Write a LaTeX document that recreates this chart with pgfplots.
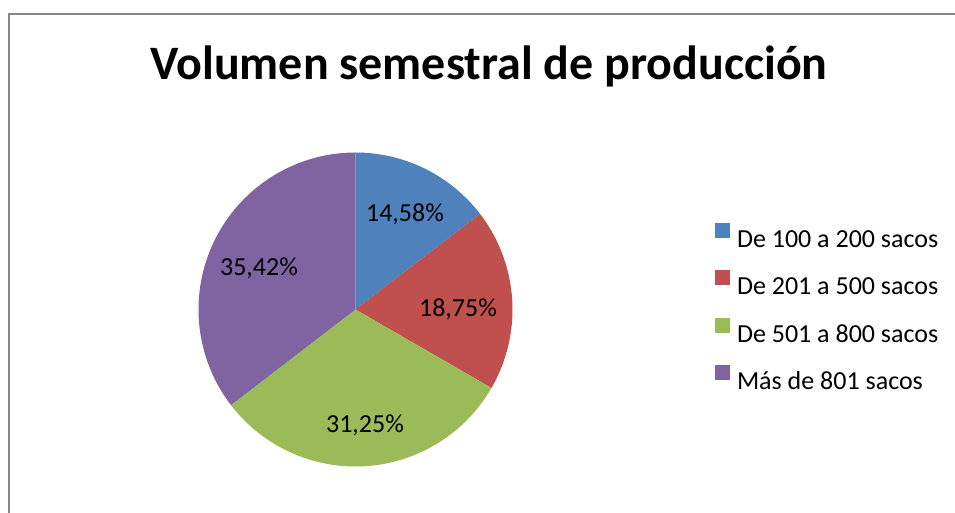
\documentclass[border=0pt]{standalone}
\usepackage{fontspec}
\setmainfont{Carlito}
\usepackage{pgfplots}
\usepackage{pgfplotstable}
\pgfplotsset{compat=1.18}
\definecolor{cA}{HTML}{4F81BD}
\definecolor{cB}{HTML}{C0504D}
\definecolor{cC}{HTML}{9BBB59}
\definecolor{cD}{HTML}{8064A2}
\definecolor{frame}{HTML}{868686}
\pgfplotstableread{
pct
14.58
18.75
31.25
35.42
}\piedata
\begin{document}
\begin{tikzpicture}
\pgfplotstablegetelem{0}{pct}\of\piedata \let\pA\pgfplotsretval
\pgfplotstablegetelem{1}{pct}\of\piedata \let\pB\pgfplotsretval
\pgfplotstablegetelem{2}{pct}\of\piedata \let\pC\pgfplotsretval
\pgfplotstablegetelem{3}{pct}\of\piedata \let\pD\pgfplotsretval
\pgfmathsetmacro{\aA}{90}
\pgfmathsetmacro{\aB}{\aA-3.6*\pA}
\pgfmathsetmacro{\aC}{\aB-3.6*\pB}
\pgfmathsetmacro{\aD}{\aC-3.6*\pC}
\pgfmathsetmacro{\aE}{\aD-3.6*\pD}
\begin{axis}[
  width=955pt,height=513pt,scale only axis,
  xmin=0,xmax=955,ymin=0,ymax=513,
  hide axis,clip=false,
  legend image code/.code={\fill[#1,draw=none] (0pt,1pt) rectangle (15pt,16pt);},
  legend style={at={(axis cs:715,290)},anchor=north west,draw=none,fill=none,
    inner sep=0pt,outer sep=0pt,row sep=23pt,column sep=7pt,
    font=\fontsize{26}{30}\selectfont,
    nodes={inner sep=0pt,text height=17pt,text depth=0pt}},
  legend cell align=left,
]
\addplot[fill=cA,draw=none,domain=\aB:\aA,samples=90,variable=\t]
  ({355.5+157*cos(\t)},{203.5+157*sin(\t)}) -- (axis cs:355.5,203.5) -- cycle;
\addlegendentry{De 100 a 200 sacos}
\addplot[fill=cB,draw=none,domain=\aC:\aB,samples=90,variable=\t]
  ({355.5+157*cos(\t)},{203.5+157*sin(\t)}) -- (axis cs:355.5,203.5) -- cycle;
\addlegendentry{De 201 a 500 sacos}
\addplot[fill=cC,draw=none,domain=\aD:\aC,samples=90,variable=\t]
  ({355.5+157*cos(\t)},{203.5+157*sin(\t)}) -- (axis cs:355.5,203.5) -- cycle;
\addlegendentry{De 501 a 800 sacos}
\addplot[fill=cD,draw=none,domain=\aE:\aD,samples=90,variable=\t]
  ({355.5+157*cos(\t)},{203.5+157*sin(\t)}) -- (axis cs:355.5,203.5) -- cycle;
\addlegendentry{Más de 801 sacos}
\draw[frame,line width=2pt] (axis cs:9,0) -- (axis cs:9,499) -- (axis cs:955,499);
\node[anchor=base,font=\bfseries\fontsize{48}{52}\selectfont] at (axis cs:489,433) {Volumen semestral de producción};
\begin{scope}[font=\fontsize{26}{30}\selectfont]
\node[anchor=base] at (axis cs:405,291) {14,58\%};
\node[anchor=base] at (axis cs:458,196) {18,75\%};
\node[anchor=base] at (axis cs:365,80) {31,25\%};
\node[anchor=base] at (axis cs:259,237) {35,42\%};
\end{scope}
\end{axis}
\pgfresetboundingbox
\path (current axis.south west) rectangle (current axis.north east);
\end{tikzpicture}
\end{document}
